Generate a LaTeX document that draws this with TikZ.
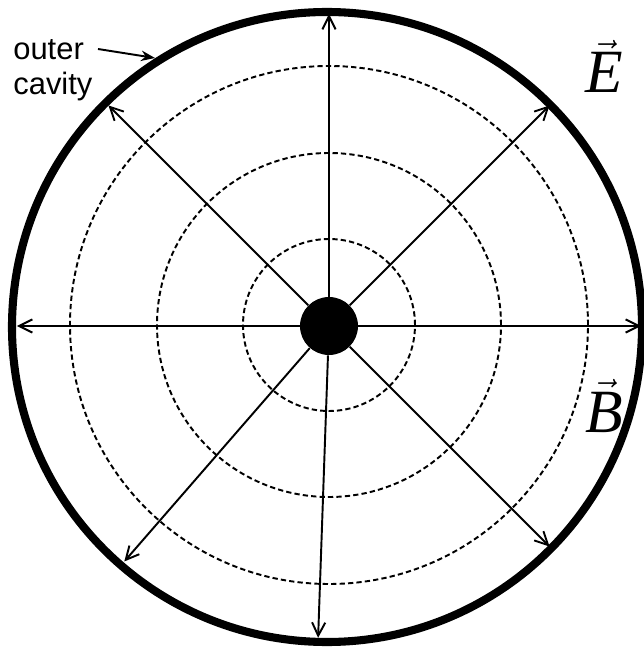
\documentclass[tikz,border=0pt]{standalone}
\usepackage{fontspec}
\setmainfont{Liberation Serif}
\setsansfont{Liberation Sans}
\usetikzlibrary{arrows.meta,positioning}

\begin{document}
\begin{tikzpicture}[
  x=0.02cm,y=0.02cm,
  wall/.style={draw,line width=4.6pt},
  ring/.style={draw,line width=1.1pt,dash pattern=on 3pt off 1.8pt},
  ray/.style={line width=1.1pt,-{Straight Barb[length=7.5pt,width=7.5pt,line width=1.1pt]}},
  field/.style={inner sep=0pt,anchor=base west,font=\fontsize{35}{40}\selectfont},
  >=Stealth
]
  \useasboundingbox (-329,-323) rectangle (314,326);
  \draw[wall] (-2,-1) circle (315);
  \foreach \r in {86,172,259}
    \draw[ring] (0,1) circle (\r);
  \node[circle,fill=black,inner sep=0pt,minimum size=1.16cm] (wire) at (0,0) {};
  \foreach \a/\n in {90/n,45/ne,0/e,135/nw,180/w,229/sw,268/s,315/se} {
    \coordinate (tip-\n) at (\a:312);
    \draw[ray] (wire) -- (tip-\n);
  }
  \node[anchor=north west,inner sep=0pt,align=left,font=\sffamily\fontsize{17.6}{19.9}\selectfont] (cav) at (-316,287) {outer\\cavity};
  \coordinate (lead) at (-231,277);
  \coordinate (hit) at (-174,268);
  \draw[->,line width=1.1pt] (lead) -- (hit);
  \node[field] (efield) at (256,233) {$\vec{\mathit{E}}$};
  \node[field] (bfield) at (256,-106) {$\vec{\mathit{B}}$};
\end{tikzpicture}
\end{document}
